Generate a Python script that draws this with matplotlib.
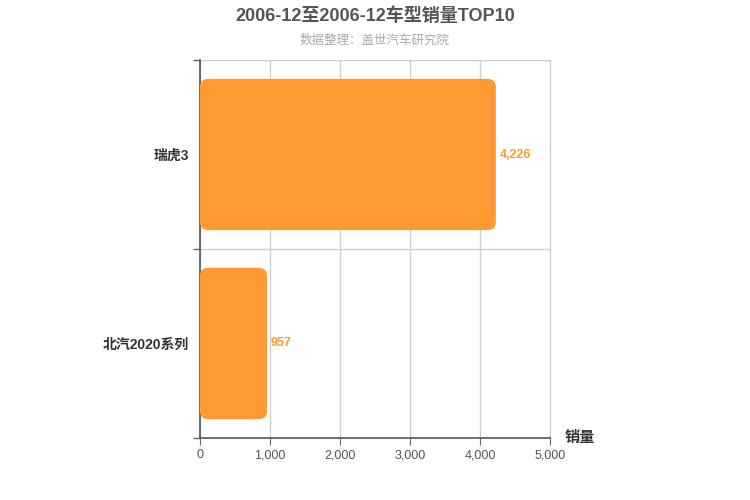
import matplotlib
matplotlib.use("Agg")
import matplotlib.pyplot as plt
from matplotlib.patches import FancyBboxPatch
from matplotlib.ticker import FuncFormatter

plt.rcParams['font.family'] = ['Liberation Sans', 'Noto Sans CJK SC', 'DejaVu Sans']

categories = ['北汽2020系列', '瑞虎3']
values = [957, 4226]
title = '2006-12至2006-12车型销量TOP10'
subtitle = '数据整理：盖世汽车研究院'
xlabel = '销量'
xticks = [0, 1000, 2000, 3000, 4000, 5000]

bar_color = '#FF9933'

fig = plt.figure(figsize=(7.5, 5), dpi=100)
ax = fig.add_axes([200/750, 62/500, 350/750, 378/500])

ax.set_xlim(0, 5000)
ax.set_ylim(-0.5, 1.5)
height = 0.8

# rounding in data units (~8 px)
rx = 8 * 5000 / 350
ry = 8 * 2 / 378
for i, v in enumerate(values):
    p = FancyBboxPatch((0, i - height/2), v, height,
                       boxstyle=f"round,pad=0,rounding_size={rx}",
                       mutation_aspect=ry/rx,
                       facecolor=bar_color, edgecolor='none', zorder=3)
    ax.add_patch(p)
    ax.text(v + 50, i, f'{v:,}', va='center', ha='left', color=bar_color,
            fontsize=9, fontweight='bold', zorder=4)

ax.set_yticks(range(len(categories)))
ax.set_yticklabels(categories, fontsize=10, fontweight='bold', color='#333333')
ax.tick_params(axis='y', which='major', length=0, pad=8)
ax.set_yticks([-0.5, 0.5, 1.5], minor=True)
ax.tick_params(axis='y', which='minor', length=5, color='#666666', width=1)

ax.set_xticks(xticks)
ax.xaxis.set_major_formatter(FuncFormatter(lambda x, p: f'{int(x):,}'))
ax.tick_params(axis='x', length=5, color='#666666', labelsize=9, labelcolor='#555555', pad=3)

ax.grid(axis='x', which='major', color='#d0d0d0', linewidth=1, zorder=0)
ax.grid(axis='y', which='minor', color='#d0d0d0', linewidth=1, zorder=0)
for gl in ax.get_xgridlines() + ax.yaxis.get_minorticklines():
    gl.set_clip_on(False)
for gl in ax.xaxis.get_gridlines():
    gl.set_clip_on(False)
for s in ['top', 'right']:
    ax.spines[s].set_visible(False)
ax.spines['left'].set_color('#555555')
ax.spines['bottom'].set_color('#555555')
ax.spines['left'].set_linewidth(1.2)
ax.spines['bottom'].set_linewidth(1.2)
ax.set_axisbelow(True)

fig.text(0.5, 1 - 16/500, title, ha='center', va='center', fontsize=13,
         fontweight='bold', color='#555555')
fig.text(0.5, 1 - 41/500, subtitle, ha='center', va='center', fontsize=9,
         color='#aaaaaa')
fig.text(580/750, 1 - 438/500, xlabel, ha='center', va='center', fontsize=11,
         fontweight='bold', color='#333333')

fig.savefig('out.png', dpi=100)
